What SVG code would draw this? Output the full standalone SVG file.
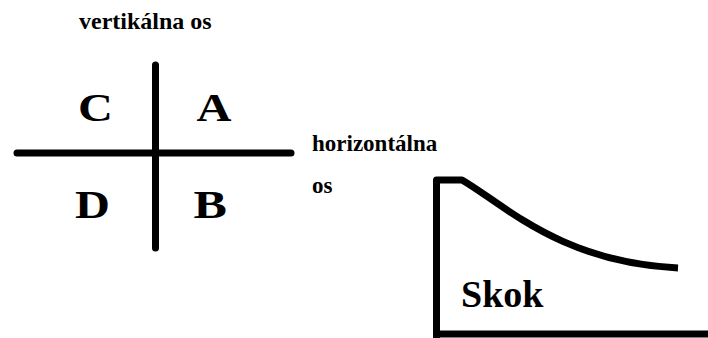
<svg xmlns="http://www.w3.org/2000/svg" width="708" height="338" viewBox="0 0 708 338">
  <style>
    svg text, g text, text { font-family: "Liberation Serif", "Times New Roman", serif !important; font-weight: bold !important; fill: #000; }
    .stroke { stroke: #000; stroke-width: 7; fill: none; }
  </style>
  <rect width="708" height="338" fill="#fff"/>

  <!-- quadrant axes -->
  <g id="axes" class="stroke" stroke-linecap="round">
    <line x1="155.5" y1="65" x2="155.5" y2="248"/>
    <line x1="17" y1="153" x2="291" y2="153"/>
  </g>

  <g id="vertical-label">
    <text font-family="Liberation Serif" font-weight="bold" font-size="24" x="79" y="29">vertikálna os</text>
  </g>
  <g id="horizontal-label">
    <text font-family="Liberation Serif" font-weight="bold" font-size="23" x="312" y="151">horizontálna</text>
    <text font-family="Liberation Serif" font-weight="bold" font-size="23" x="312" y="193">os</text>
  </g>

  <!-- quadrant letters, slightly widened -->
  <g id="quad-C"><text font-family="Liberation Serif" font-weight="bold" font-size="41" transform="translate(78,120.5) scale(1.18,1)">C</text></g>
  <g id="quad-A"><text font-family="Liberation Serif" font-weight="bold" font-size="41" transform="translate(196.5,120.5) scale(1.18,1)">A</text></g>
  <g id="quad-D"><text font-family="Liberation Serif" font-weight="bold" font-size="41" transform="translate(75,217.5) scale(1.18,1)">D</text></g>
  <g id="quad-B"><text font-family="Liberation Serif" font-weight="bold" font-size="41" transform="translate(193.5,217.5) scale(1.22,1)">B</text></g>

  <!-- jump profile -->
  <g id="skok">
    <g class="stroke" stroke-linejoin="round">
      <path d="M436.5,338 L436.5,180 L462,180 C505,205 560,262 678,268"/>
      <line x1="433" y1="334" x2="708" y2="334"/>
    </g>
    <text font-family="Liberation Serif" font-weight="bold" font-size="38" x="461" y="307">Skok</text>
  </g>
</svg>
